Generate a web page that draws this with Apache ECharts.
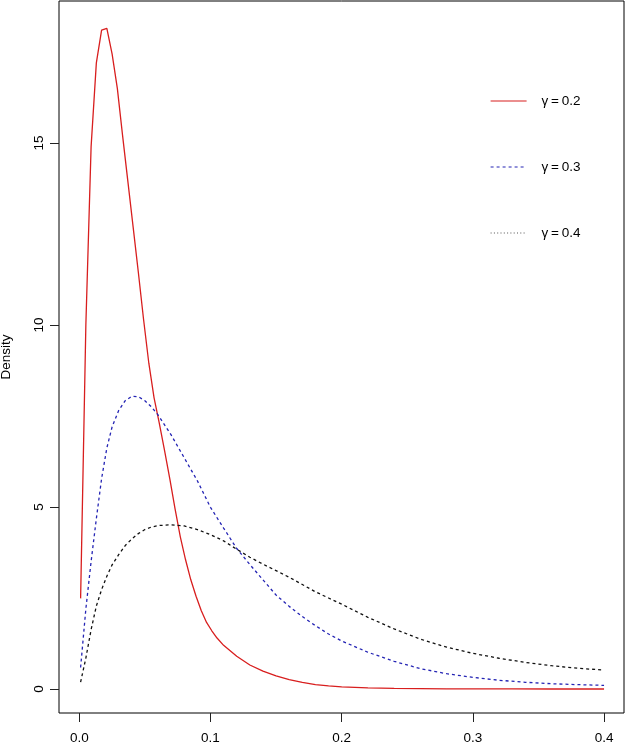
<!DOCTYPE html>
<html>
<head>
<meta charset="utf-8">
<script src="https://cdn.jsdelivr.net/npm/echarts@6/dist/echarts.min.js"></script>
<style>
html,body{margin:0;padding:0;background:#fff;}
#chart{width:626px;height:744px;}
</style>
</head>
<body>
<div id="chart"></div>
<script>
// ---- data ----
var seriesNames = ['γ\u2009=\u20090.2', 'γ\u2009=\u20090.3', 'γ\u2009=\u20090.4'];

var redX = [0.001,0.005,0.009,0.013,0.017,0.021,0.025,0.029,0.033,0.037,0.041,0.045,0.049,0.053,0.057,0.061,0.065,0.069,0.073,0.077,0.081,0.085,0.089,0.093,0.097,0.101,0.105,0.11,0.12,0.13,0.14,0.15,0.16,0.17,0.18,0.19,0.2,0.22,0.24,0.26,0.28,0.3,0.33,0.36,0.4];
var redY = [2.49,10.0,14.9,17.2,18.1,18.15,17.45,16.5,15.2,13.95,12.7,11.45,10.15,8.95,8.0,7.3,6.55,5.77,4.95,4.18,3.55,3.0,2.55,2.15,1.83,1.6,1.4,1.2,0.9,0.66,0.49,0.36,0.26,0.18,0.12,0.085,0.06,0.03,0.015,0.008,0.004,0.002,0.001,0.0005,0];

var gridX = [0.001,0.005,0.009,0.013,0.017,0.021,0.025,0.03,0.035,0.04,0.045,0.05,0.055,0.06,0.07,0.08,0.09,0.1,0.11,0.12,0.13,0.14,0.15,0.16,0.17,0.18,0.19,0.2,0.22,0.24,0.26,0.28,0.3,0.32,0.34,0.36,0.38,0.4];
var blueY = [0.59,2.2,3.5,4.68,5.78,6.62,7.2,7.65,7.92,8.04,8.03,7.92,7.75,7.53,6.98,6.35,5.72,4.99,4.42,3.86,3.42,3.0,2.58,2.27,1.99,1.74,1.51,1.32,1.01,0.76,0.56,0.42,0.32,0.24,0.185,0.145,0.12,0.10];
var blackY = [0.19,0.85,1.63,2.28,2.73,3.1,3.41,3.69,3.94,4.12,4.27,4.38,4.45,4.49,4.51,4.48,4.38,4.24,4.07,3.84,3.62,3.43,3.25,3.07,2.87,2.67,2.5,2.33,1.97,1.65,1.37,1.15,0.98,0.845,0.73,0.64,0.57,0.52];

var xTicks = [0, 0.1, 0.2, 0.3, 0.4];
var yTicks = [0, 5, 10, 15];
var yTitle = 'Density';

function pairs(xs, ys){ return xs.map(function(x,i){ return [x, ys[i]]; }); }

var FONT = '"Liberation Sans", Arial, Helvetica, sans-serif';
var chart = echarts.init(document.getElementById('chart'), null, {renderer:'canvas'});
chart.setOption({
  animation: false,
  backgroundColor: '#fff',
  grid: {left: 59, right: 2, top: 1, bottom: 31, show: true, borderColor: '#000', borderWidth: 1,
    backgroundColor: 'transparent', containLabel: false, outerBoundsMode: 'none'},
  xAxis: {
    type: 'value', min: -0.01547, max: 0.4152,
    axisLine: {show: false, onZero: false},
    splitLine: {show: false},
    axisTick: {show: true, length: 9, lineStyle: {color: '#222', width: 1}, customValues: xTicks},
    axisLabel: {customValues: xTicks, margin: 18, color: '#000', fontSize: 13.5, fontFamily: FONT,
      formatter: function(v){ return v.toFixed(1); }}
  },
  yAxis: {
    type: 'value', min: -0.659, max: 18.9,
    name: yTitle, nameLocation: 'middle', nameGap: 46, nameRotate: 90,
    nameTextStyle: {color: '#000', fontSize: 13.5, fontFamily: FONT},
    axisLine: {show: false, onZero: false},
    splitLine: {show: false},
    axisTick: {show: true, length: 9, lineStyle: {color: '#222', width: 1}, customValues: yTicks},
    axisLabel: {customValues: yTicks, rotate: 90, margin: 13, color: '#000', fontSize: 13.5, fontFamily: FONT,
      formatter: function(v){ return String(v); }}
  },
  legend: {
    orient: 'vertical', left: 490, top: 94, padding: 0,
    itemWidth: 36, itemHeight: 14, itemGap: 52,
    itemStyle: {opacity: 0},
    lineStyle: {width: 1.2},
    textStyle: {color: '#000', fontSize: 13.5, fontFamily: FONT, padding: [0,0,0,10]},
    data: [
      {name: seriesNames[0], lineStyle: {width: 1.2, color: '#d81e1e', type: 'solid'}},
      {name: seriesNames[1], lineStyle: {width: 1.2, color: '#2424b4', type: [3, 3]}},
      {name: seriesNames[2], lineStyle: {type: [1, 2.3], color: '#555', width: 1.2}}
    ]
  },
  series: [
    {name: seriesNames[0], type: 'line', data: pairs(redX, redY), symbol: 'none', smooth: false,
      lineStyle: {color: '#d81e1e', width: 1.3, type: 'solid'}, itemStyle: {color: '#d81e1e'}},
    {name: seriesNames[1], type: 'line', data: pairs(gridX, blueY), symbol: 'none', smooth: false,
      lineStyle: {color: '#2424b4', width: 1.3, type: [3, 3]}, itemStyle: {color: '#2424b4'}},
    {name: seriesNames[2], type: 'line', data: pairs(gridX, blackY), symbol: 'none', smooth: false,
      lineStyle: {color: '#111', width: 1.3, type: [3, 3]}, itemStyle: {color: '#111'}}
  ]
});
</script>
</body>
</html>
